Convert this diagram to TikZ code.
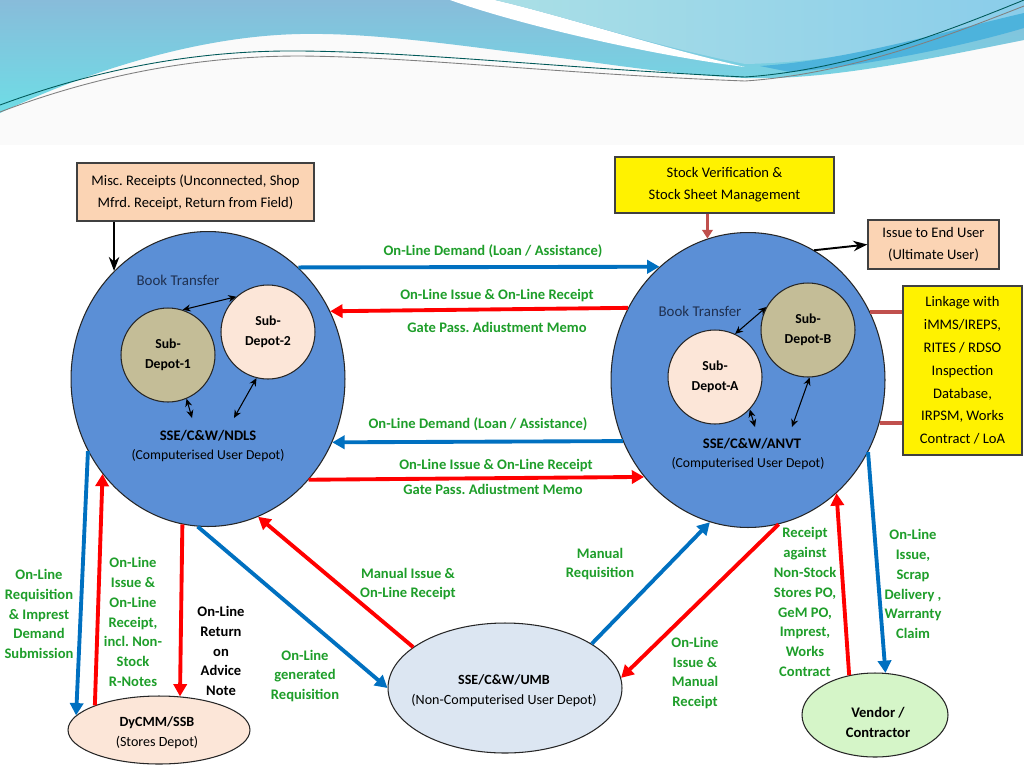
\documentclass[tikz,border=0pt]{standalone}
\usepackage{fontspec}
\setmainfont{Carlito}
\usepackage{tikz}
\usetikzlibrary{arrows.meta,calc,positioning,shapes.geometric}
\definecolor{rly-blue}{HTML}{0070C0}
\definecolor{rly-red}{HTML}{FF0000}
\definecolor{rly-brick}{HTML}{C0504D}
\definecolor{rly-green}{HTML}{1E9E2A}
\definecolor{rly-depot}{HTML}{5B8FD6}
\definecolor{rly-khaki}{HTML}{C4BD97}
\definecolor{rly-cream}{HTML}{FCE6D8}
\definecolor{rly-peach}{HTML}{FBD4B4}
\definecolor{rly-mist}{HTML}{DCE6F2}
\definecolor{rly-mint}{HTML}{D5F5C8}
\definecolor{rly-navy}{HTML}{1F3050}
\definecolor{hdr-steel}{HTML}{88BCDA}
\definecolor{hdr-cyan}{HTML}{6EDDE6}
\definecolor{hdr-ice}{HTML}{AADFE6}
\definecolor{hdr-sky}{HTML}{8ACDEA}
\definecolor{hdr-deep}{HTML}{4DB3DC}
\frenchspacing

\begin{document}
\begin{tikzpicture}[x=0.02cm,y=-0.02cm,>=Stealth,
  every node/.style={font=\fontsize{8.3}{12.5}\selectfont},
  box/.style={draw=black!75,line width=0.8pt,align=center,inner sep=0pt},
  depot/.style={ellipse,draw=black!85,line width=0.6pt,fill=rly-depot,inner sep=0pt,
    minimum width=5.48cm,minimum height=5.9cm},
  subdepot/.style={circle,draw=black!85,line width=0.6pt,inner sep=0pt,minimum size=1.88cm,
    align=center,font=\fontsize{7.8}{11.3}\selectfont\bfseries},
  oval/.style={ellipse,draw=black!85,line width=0.6pt,inner sep=0pt},
  flow/.style={line width=2.2pt,-{Triangle[length=7pt,width=7.5pt]}},
  feed/.style={line width=2pt,rly-brick},
  link/.style={{Stealth[length=4.5pt,width=4pt]}-{Stealth[length=4.5pt,width=4pt]},line width=0.6pt},
  tag/.style={align=center,text=rly-green,font=\fontsize{8.3}{11.3}\selectfont\bfseries},
]
  \useasboundingbox (0,0) rectangle (1024,768);
  \fill[white] (0,0) rectangle (1024,768);

  % slide header waves
  \fill[black!2] (0,0) rectangle (1024,145);
  \shade[top color=hdr-steel,bottom color=hdr-cyan] (0,0) -- (1024,0) -- (1024,40)
    .. controls (900,65) and (820,80) .. (745,78)
    .. controls (660,74) and (600,62) .. (512,52)
    .. controls (420,40) and (360,33) .. (300,34)
    .. controls (200,36) and (90,70) .. (0,113) -- cycle;
  \fill[white] (450,0) .. controls (520,25) and (650,55) .. (745,67)
    .. controls (650,45) and (560,15) .. (495,0) -- cycle;
  \shade[left color=hdr-ice,right color=hdr-sky] (495,0) .. controls (560,15) and (650,45) .. (745,64)
    .. controls (850,62) and (950,35) .. (1024,15) -- (1024,0) -- cycle;
  \fill[hdr-deep] (760,66) .. controls (850,60) and (950,30) .. (1024,13) -- (1024,28)
    .. controls (950,50) and (850,68) .. (790,72) -- cycle;
  \draw[teal!70!black,line width=0.5pt] (0,105) .. controls (100,68) and (200,50) .. (300,51)
    .. controls (420,52) and (560,68) .. (745,77) .. controls (850,70) and (950,30) .. (1024,0);
  \draw[gray,line width=0.5pt] (0,112) .. controls (100,74) and (200,56) .. (300,56)
    .. controls (420,57) and (560,74) .. (745,81) .. controls (850,74) and (950,35) .. (1024,6);

  % boxes
  \node[box,fill=rly-peach,minimum width=4.74cm,minimum height=1.16cm] (misc) at (195.5,192)
    {Misc. Receipts (Unconnected, Shop\\Mfrd. Receipt, Return from Field)};
  \node[box,fill=yellow,minimum width=4.38cm,minimum height=1.12cm] (stockver) at (724.5,185)
    {Stock Verification \&\\Stock Sheet Management};
  \node[box,fill=rly-peach,minimum width=2.62cm,minimum height=0.98cm] (enduser) at (933.5,244.5)
    {Issue to End User\\(Ultimate User)};
  \node[box,fill=yellow,minimum width=2.38cm,minimum height=3.38cm,font=\fontsize{8.3}{13}\selectfont]
    (linkage) at (962.5,370.5)
    {Linkage with\\iMMS/IREPS,\\RITES / RDSO\\Inspection\\Database,\\IRPSM, Works\\Contract / LoA};

  % computerised depots
  \node[depot] (ndls) at (208,379) {};
  \node[depot] (anvt) at (748,380) {};
  \node[subdepot,fill=rly-khaki] (sub1) at (168,355) {Sub-\\Depot-1};
  \node[subdepot,fill=rly-cream] (sub2) at (268,332) {Sub-\\Depot-2};
  \node[subdepot,fill=rly-cream] (subA) at (715,377) {Sub-\\Depot-A};
  \node[subdepot,fill=rly-khaki] (subB) at (808,330) {Sub-\\Depot-B};
  \node[text=rly-navy,font=\fontsize{8.5}{11}\selectfont] (ndlsbook) at (178,280) {Book Transfer};
  \node[text=rly-navy,font=\fontsize{8.5}{11}\selectfont] (anvtbook) at (700,311) {Book Transfer};
  \node[font=\fontsize{8.3}{11}\selectfont\bfseries] (ndlsname) at (208,436) {SSE/C\&W/NDLS};
  \node[font=\fontsize{7.8}{11}\selectfont] (ndlsrole) at (208,456) {(Computerised User Depot)};
  \node[font=\fontsize{8.3}{11}\selectfont\bfseries] (anvtname) at (752,444) {SSE/C\&W/ANVT};
  \node[font=\fontsize{7.8}{11}\selectfont] (anvtrole) at (748,464) {(Computerised User Depot)};
  \coordinate (n1) at (192,418);
  \coordinate (n2) at (234,418);
  \coordinate (a1) at (755,427);
  \coordinate (a2) at (792,427);
  \draw[link] (sub1.72) -- (sub2.132);
  \draw[link] (sub1.293) -- (n1);
  \draw[link] (sub2.256.6) -- (n2);
  \draw[link] (subA.65.5) -- (subB.151.9);
  \draw[link] (subA.317.7) -- (a1);
  \draw[link] (subB.272.5) -- (a2);

  % other depots
  \node[oval,fill=rly-cream,minimum width=3.64cm,minimum height=1.36cm] (ssb) at (159,730) {};
  \node[align=center,font=\fontsize{8}{11.3}\selectfont] (ssbtxt) at (157,733)
    {\textbf{DyCMM/SSB}\\(Stores Depot)};
  \node[oval,fill=rly-mist,minimum width=4.68cm,minimum height=2.6cm] (umb) at (505,688) {};
  \node[align=center,font=\fontsize{8}{11.3}\selectfont] (umbtxt) at (504,691)
    {\textbf{SSE/C\&W/UMB}\\(Non-Computerised User Depot)};
  \node[oval,fill=rly-mint,minimum width=2.92cm,minimum height=1.68cm] (vendor) at (875,715) {};
  \node[align=center,font=\fontsize{8.3}{11.3}\selectfont\bfseries] (vendortxt) at (878,722)
    {Vendor /\\Contractor};

  % feeders
  \draw[line width=1.1pt,->] (misc.south -| ndls.131.9) -- (ndls.131.9);
  \draw[line width=1.1pt,->] (anvt.63.9) -- (enduser.west);
  \draw[feed,-{Triangle[length=5pt,width=6pt]}] (stockver.south -| anvt.106.6) -- (anvt.106.6);
  \draw[feed] (linkage.west |- anvt.29.2) -- (anvt.29.2);
  \draw[feed] (linkage.west |- anvt.342.7) -- (anvt.342.7);

  % depot to depot
  \draw[flow,rly-blue] (ndls.51) -- (anvt.128.7);
  \draw[flow,rly-red] (anvt.149.4) -- (ndls.29.7);
  \draw[flow,rly-blue] (anvt.206) -- (ndls.333.5);
  \draw[flow,rly-red] (ndls.315.7) -- (anvt.223.7);
  \node[tag] (dem1) at (493,251) {On-Line Demand (Loan / Assistance)};
  \node[tag] (iss1) at (497,296) {On-Line Issue \& On-Line Receipt};
  \node[tag] (gp1) at (497,327) {Gate Pass. Adiustment Memo};
  \node[tag] (dem2) at (478,424) {On-Line Demand (Loan / Assistance)};
  \node[tag] (iss2) at (496,466) {On-Line Issue \& On-Line Receipt};
  \node[tag] (gp2) at (493,489) {Gate Pass. Adiustment Memo};

  % down to the lower depots
  \draw[flow,rly-blue] (ndls.211.6) -- (ssb.170);
  \draw[flow,rly-red] (ssb.159.6) -- (ndls.222.6);
  \draw[flow,rly-red] (ndls.260.6) -- (ssb.58.7);
  \draw[flow,rly-blue] (ndls.266.9) -- (umb.180);
  \draw[flow,rly-red] (umb.156.7) -- (ndls.290.1);
  \draw[flow,rly-blue] (umb.27.9) -- (anvt.255);
  \draw[flow,rly-red] (anvt.282.5) -- (umb.5.3);
  \draw[flow,rly-red] (vendor.123.3) -- (anvt.308.9);
  \draw[flow,rly-blue] (anvt.329.2) -- (vendor.76.3);
  \node[tag] (reqsub) at (39,614) {On-Line\\Requisition\\\& Imprest\\Demand\\Submission};
  \node[tag] (issrn) at (133,622) {On-Line\\Issue \&\\On-Line\\Receipt,\\incl. Non-\\Stock\\R-Notes};
  \node[tag,text=black] (retnote) at (221,651) {On-Line\\Return\\on\\Advice\\Note};
  \node[tag] (manrec) at (408,584) {Manual Issue \&\\On-Line Receipt};
  \node[tag] (genreq) at (305,676) {On-Line\\generated\\Requisition};
  \node[tag] (manreq) at (600,564) {Manual\\Requisition};
  \node[tag] (issman) at (695,673) {On-Line\\Issue \&\\Manual\\Receipt};
  \node[tag] (nsrec) at (805,602) {Receipt\\against\\Non-Stock\\Stores PO,\\GeM PO,\\Imprest,\\Works\\Contract};
  \node[tag] (scrap) at (913,584) {On-Line\\Issue,\\Scrap\\Delivery ,\\Warranty\\Claim};
\end{tikzpicture}
\end{document}
